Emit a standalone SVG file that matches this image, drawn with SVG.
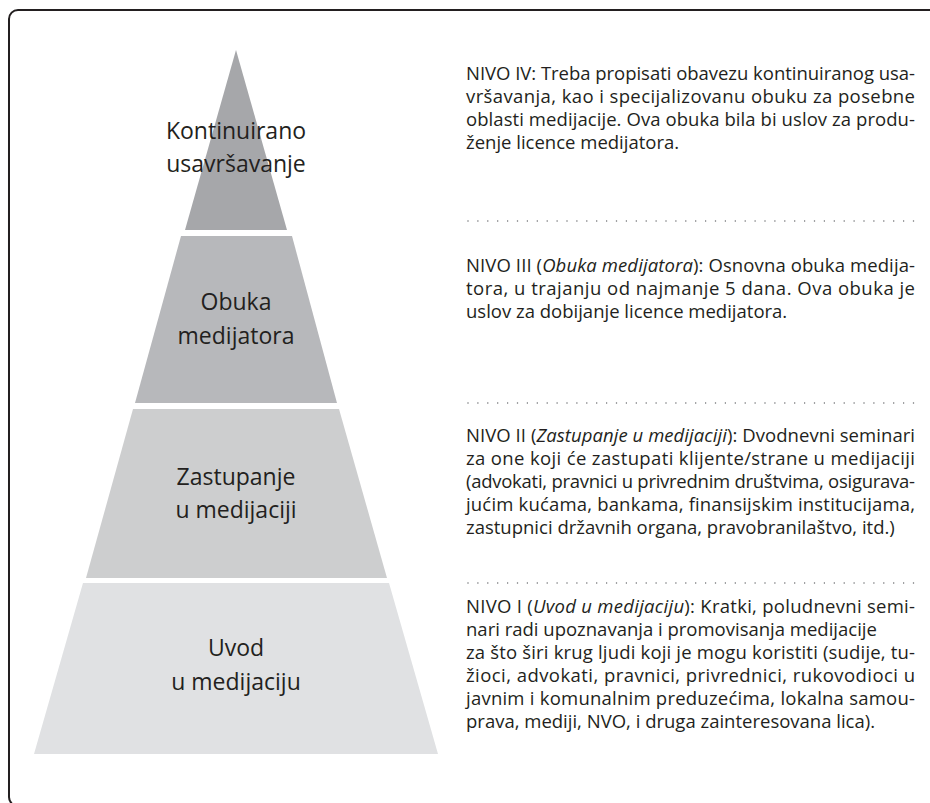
<svg xmlns="http://www.w3.org/2000/svg" width="930" height="803" viewBox="0 0 930 803">
<style>
.lbl{font-family:"Open Sans","Liberation Sans",sans-serif;font-size:23px;fill:#231f20;text-anchor:middle}
.p{font-family:"Open Sans","Liberation Sans",sans-serif;font-size:18.5px;fill:#231f20}
.i{font-style:italic}
.dots{stroke:#6d6e71;stroke-width:1.5;stroke-linecap:round;stroke-dasharray:0 9.9;fill:none}
</style>
<rect x="9" y="10" width="950" height="796" rx="9" ry="9" fill="#ffffff" stroke="#231f20" stroke-width="2"/>
<g id="tier4">
<polygon points="83,583 389,583 438,754 34,754" fill="#e0e1e3"/>
<text class="lbl" x="236" y="656">Uvod</text>
<text class="lbl" x="236" y="690">u medijaciju</text>
</g>
<g id="tier3">
<polygon points="133,409 339,409 387,578 86,578" fill="#cdcecf"/>
<text class="lbl" x="236" y="485">Zastupanje</text>
<text class="lbl" x="236" y="518">u medijaciji</text>
</g>
<g id="tier2">
<polygon points="181,236 292,236 337,403 135,403" fill="#b7b8bb"/>
<text class="lbl" x="236" y="310">Obuka</text>
<text class="lbl" x="236" y="344">medijatora</text>
</g>
<g id="tier1">
<polygon points="236,50 287,230 185,230" fill="#a6a7aa"/>
<text class="lbl" x="236" y="139">Kontinuirano</text>
<text class="lbl" x="236" y="172">usavršavanje</text>
</g>
<g id="connectors">
<line class="dots" x1="468" y1="221" x2="915" y2="221"/>
<line class="dots" x1="468" y1="403" x2="915" y2="403"/>
<line class="dots" x1="468" y1="583" x2="915" y2="583"/>
</g>
<g id="nivo4">
<text class="p" x="466" y="80" textLength="449">NIVO IV: Treba propisati obavezu kontinuiranog usa-</text>
<text class="p" x="466" y="103" textLength="449">vršavanja, kao i specijalizovanu obuku za posebne</text>
<text class="p" x="466" y="126" textLength="449">oblasti medijacije. Ova obuka bila bi uslov za produ-</text>
<text class="p" x="466" y="149">ženje licence medijatora.</text>
</g>
<g id="nivo3">
<text class="p" x="466" y="272" textLength="449">NIVO III (<tspan class="i">Obuka medijatora</tspan>): Osnovna obuka medija-</text>
<text class="p" x="466" y="295" textLength="449">tora, u trajanju od najmanje 5 dana. Ova obuka je</text>
<text class="p" x="466" y="318">uslov za dobijanje licence medijatora.</text>
</g>
<g id="nivo2">
<text class="p" x="466" y="442" textLength="449">NIVO II (<tspan class="i">Zastupanje u medijaciji</tspan>): Dvodnevni seminari</text>
<text class="p" x="466" y="465" textLength="449">za one koji će zastupati klijente/strane u medijaciji</text>
<text class="p" x="466" y="488" textLength="449">(advokati, pravnici u privrednim društvima, osigurava-</text>
<text class="p" x="466" y="511" textLength="449">jućim kućama, bankama, finansijskim institucijama,</text>
<text class="p" x="466" y="534">zastupnici državnih organa, pravobranilaštvo, itd.)</text>
</g>
<g id="nivo1">
<text class="p" x="466" y="613" textLength="449">NIVO I (<tspan class="i">Uvod u medijaciju</tspan>): Kratki, poludnevni semi-</text>
<text class="p" x="466" y="636">nari radi upoznavanja i promovisanja medijacije</text>
<text class="p" x="466" y="659" textLength="449">za što širi krug ljudi koji je mogu koristiti (sudije, tu-</text>
<text class="p" x="466" y="682" textLength="449">žioci, advokati, pravnici, privrednici, rukovodioci u</text>
<text class="p" x="466" y="705" textLength="449">javnim i komunalnim preduzećima, lokalna samou-</text>
<text class="p" x="466" y="728">prava, mediji, NVO, i druga zainteresovana lica).</text>
</g>
</svg>
